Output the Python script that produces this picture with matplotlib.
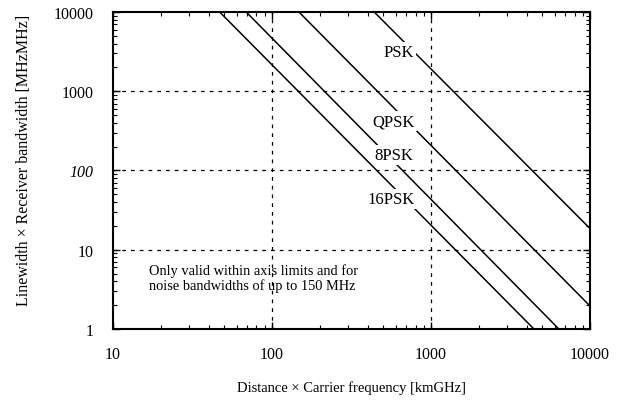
import numpy as np
import matplotlib
matplotlib.use("Agg")
import matplotlib.pyplot as plt

plt.rcParams['font.family'] = ['Liberation Serif', 'DejaVu Serif']

# line end points (distance*freq, linewidth*bandwidth)
psk_x = [440, 10000]
psk_y = [10000, 18.5]
qpsk_x = [148, 10000]
qpsk_y = [10000, 1.95]
psk8_x = [69, 6370]
psk8_y = [10000, 1]
psk16_x = [47, 4440]
psk16_y = [10000, 1]

labels = ["PSK", "QPSK", "8PSK", "16PSK"]
label_x = [624, 580, 589, 564]
label_y = [3100, 417, 155, 44]

xticks = [10, 100, 1000, 10000]
yticks = [1, 10, 100, 1000, 10000]

fig = plt.figure(figsize=(6.19, 4.02), dpi=100)
ax = fig.add_axes([0.1821, 0.1791, 0.7711, 0.7886])

for xs, ys in [(psk_x, psk_y), (qpsk_x, qpsk_y), (psk8_x, psk8_y), (psk16_x, psk16_y)]:
    ax.plot(xs, ys, color='black', lw=1.1)

for t, x, y in zip(labels, label_x, label_y):
    ax.text(x, y, t, fontsize=12, ha='center', va='center', zorder=5,
            bbox=dict(facecolor='white', edgecolor='none', pad=1.5))

ax.text(16.8, 4.4, "Only valid within axis limits and for\nnoise bandwidths of up to 150 MHz",
        fontsize=10.4, ha='left', va='center', linespacing=1.1)

ax.set_xscale('log')
ax.set_yscale('log')
ax.set_xlim(10, 10000)
ax.set_ylim(1, 10000)
ax.set_xticks(xticks)
ax.set_xticklabels([str(v) for v in xticks])
ax.set_yticks(yticks)
ax.set_yticklabels([str(v) for v in yticks])
ax.get_yticklabels()[2].set_fontstyle('italic')

for v in [100, 1000]:
    ax.axvline(v, color='black', lw=0.9, ls=(0, (3, 4)), zorder=1)
for v in [10, 100, 1000]:
    ax.axhline(v, color='black', lw=0.9, ls=(0, (3, 4)), zorder=1)

ax.tick_params(which='major', direction='in', length=5, width=1, top=True, right=True,
               labelsize=11.5)
ax.tick_params(axis='x', which='major', pad=12)
ax.tick_params(axis='y', which='major', pad=14)
ax.tick_params(which='minor', direction='in', length=3, width=0.8, top=True, right=True)
for s in ax.spines.values():
    s.set_linewidth(1.5)

ax.set_xlabel("Distance \u00d7 Carrier frequency [kmGHz]", fontsize=10.5)
ax.set_ylabel("Linewidth \u00d7 Receiver bandwidth [MHzMHz]", fontsize=11.5)
ax.xaxis.set_label_coords(0.5, -0.161)
ax.yaxis.set_label_coords(-0.169, 0.536)

fig.savefig("out.png", dpi=100)
